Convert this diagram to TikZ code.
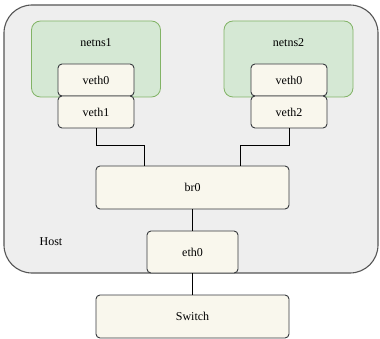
\documentclass[tikz,border=0pt]{standalone}
\usepackage{fontspec}
\setmainfont{Liberation Serif}
\usetikzlibrary{calc}

\definecolor{hostfill}{HTML}{EEEEEE}
\definecolor{hostline}{HTML}{555555}
\definecolor{nsfill}{HTML}{D5E8D4}
\definecolor{nsline}{HTML}{82B366}
\definecolor{boxfill}{HTML}{F9F7ED}
\definecolor{boxline}{HTML}{36393D}

\tikzset{
  hostbox/.style={draw=hostline, fill=hostfill, line width=1.1pt, rounded corners=28pt},
  nsbox/.style={draw=nsline, fill=nsfill, line width=0.8pt, rounded corners=9pt},
  ifbox/.style={draw=boxline, fill=boxfill, line width=0.9pt, rounded corners=4pt},
  wire/.style={draw=black, line width=0.9pt}
}

\begin{document}
\begin{tikzpicture}[x=1pt, y=-1pt, font=\fontsize{12}{14}\selectfont]
            \useasboundingbox (0,0) rectangle (380,339);

            % host machine
            \node[hostbox, minimum width=374pt, minimum height=268pt] (host) at (191,139) {};
            \node (hostlbl) at (51,242) {Host};

            % first namespace
            \node[nsbox, minimum width=129pt, minimum height=76pt] (ns1) at (96,59) {};
            \node (ns1lbl) at (96,43) {netns1};
            \node[ifbox, minimum width=76pt, minimum height=32pt] (veth0a) at (96,80) {veth0};
            \node[ifbox, minimum width=76pt, minimum height=32pt] (veth1) at (96,112) {veth1};

            % second namespace
            \node[nsbox, minimum width=129pt, minimum height=76pt] (ns2) at (288.5,59) {};
            \node (ns2lbl) at (288.5,43) {netns2};
            \node[ifbox, minimum width=76pt, minimum height=32pt] (veth0b) at (289,80) {veth0};
            \node[ifbox, minimum width=76pt, minimum height=32pt] (veth2) at (289,112) {veth2};

            % bridge, uplink, switch
            \node[ifbox, minimum width=193pt, minimum height=43pt] (br0) at (192.5,187.5) {br0};
            \node[ifbox, minimum width=91pt, minimum height=42pt] (eth0) at (192.5,252) {eth0};
            \node[ifbox, minimum width=193pt, minimum height=43pt] (switch) at (192.5,316.5) {Switch};

            \draw[wire] (veth1.south) -- ++(0,17) -| ([xshift=-48.5pt]br0.north);
            \draw[wire] (veth2.south) -- ++(0,17) -| ([xshift=47.5pt]br0.north);
            \draw[wire] (br0) -- (eth0);
            \draw[wire] (eth0) -- (switch);
        \end{tikzpicture}
\end{document}
